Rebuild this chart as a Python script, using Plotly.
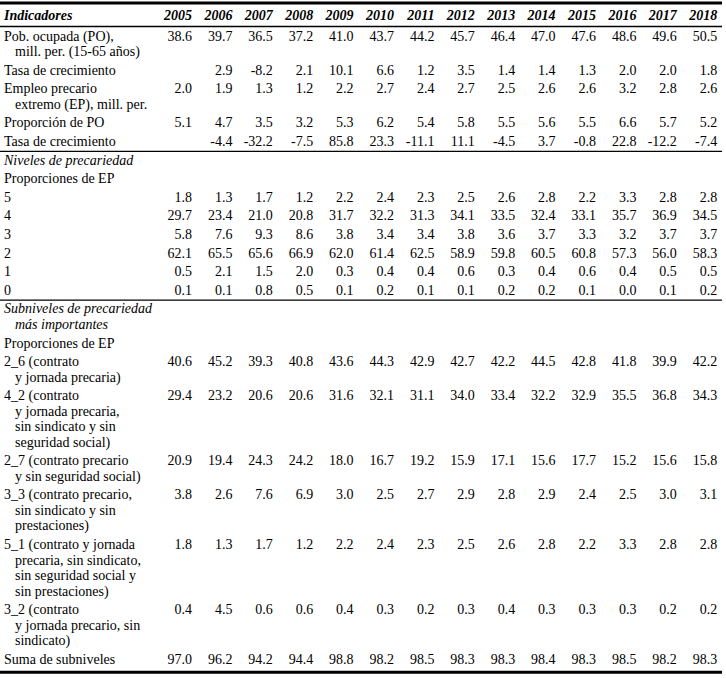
import plotly.graph_objects as go

# %% Datos de la tabla
anios = [2005, 2006, 2007, 2008, 2009, 2010, 2011, 2012, 2013, 2014, 2015, 2016, 2017, 2018]

pob_ocupada = [38.6, 39.7, 36.5, 37.2, 41.0, 43.7, 44.2, 45.7, 46.4, 47.0, 47.6, 48.6, 49.6, 50.5]
tasa_po = [None, 2.9, -8.2, 2.1, 10.1, 6.6, 1.2, 3.5, 1.4, 1.4, 1.3, 2.0, 2.0, 1.8]
empleo_ep = [2.0, 1.9, 1.3, 1.2, 2.2, 2.7, 2.4, 2.7, 2.5, 2.6, 2.6, 3.2, 2.8, 2.6]
prop_po = [5.1, 4.7, 3.5, 3.2, 5.3, 6.2, 5.4, 5.8, 5.5, 5.6, 5.5, 6.6, 5.7, 5.2]
tasa_ep = [None, -4.4, -32.2, -7.5, 85.8, 23.3, -11.1, 11.1, -4.5, 3.7, -0.8, 22.8, -12.2, -7.4]

nivel_5 = [1.8, 1.3, 1.7, 1.2, 2.2, 2.4, 2.3, 2.5, 2.6, 2.8, 2.2, 3.3, 2.8, 2.8]
nivel_4 = [29.7, 23.4, 21.0, 20.8, 31.7, 32.2, 31.3, 34.1, 33.5, 32.4, 33.1, 35.7, 36.9, 34.5]
nivel_3 = [5.8, 7.6, 9.3, 8.6, 3.8, 3.4, 3.4, 3.8, 3.6, 3.7, 3.3, 3.2, 3.7, 3.7]
nivel_2 = [62.1, 65.5, 65.6, 66.9, 62.0, 61.4, 62.5, 58.9, 59.8, 60.5, 60.8, 57.3, 56.0, 58.3]
nivel_1 = [0.5, 2.1, 1.5, 2.0, 0.3, 0.4, 0.4, 0.6, 0.3, 0.4, 0.6, 0.4, 0.5, 0.5]
nivel_0 = [0.1, 0.1, 0.8, 0.5, 0.1, 0.2, 0.1, 0.1, 0.2, 0.2, 0.1, 0.0, 0.1, 0.2]

sub_2_6 = [40.6, 45.2, 39.3, 40.8, 43.6, 44.3, 42.9, 42.7, 42.2, 44.5, 42.8, 41.8, 39.9, 42.2]
sub_4_2 = [29.4, 23.2, 20.6, 20.6, 31.6, 32.1, 31.1, 34.0, 33.4, 32.2, 32.9, 35.5, 36.8, 34.3]
sub_2_7 = [20.9, 19.4, 24.3, 24.2, 18.0, 16.7, 19.2, 15.9, 17.1, 15.6, 17.7, 15.2, 15.6, 15.8]
sub_3_3 = [3.8, 2.6, 7.6, 6.9, 3.0, 2.5, 2.7, 2.9, 2.8, 2.9, 2.4, 2.5, 3.0, 3.1]
sub_5_1 = [1.8, 1.3, 1.7, 1.2, 2.2, 2.4, 2.3, 2.5, 2.6, 2.8, 2.2, 3.3, 2.8, 2.8]
sub_3_2 = [0.4, 4.5, 0.6, 0.6, 0.4, 0.3, 0.2, 0.3, 0.4, 0.3, 0.3, 0.3, 0.2, 0.2]
suma_sub = [97.0, 96.2, 94.2, 94.4, 98.8, 98.2, 98.5, 98.3, 98.3, 98.4, 98.3, 98.5, 98.2, 98.3]

# %% Estructura de filas: (tipo, líneas de la etiqueta, valores)
filas = [
    ("header", ["Indicadores"], anios),
    ("row", ["Pob. ocupada (PO),", "mill. per. (15-65 años)"], pob_ocupada),
    ("row", ["Tasa de crecimiento"], tasa_po),
    ("row", ["Empleo precario", "extremo (EP), mill. per."], empleo_ep),
    ("row", ["Proporción de PO"], prop_po),
    ("row", ["Tasa de crecimiento"], tasa_ep),
    ("rule", [], None),
    ("section", ["Niveles de precariedad"], None),
    ("row", ["Proporciones de EP"], None),
    ("row", ["5"], nivel_5),
    ("row", ["4"], nivel_4),
    ("row", ["3"], nivel_3),
    ("row", ["2"], nivel_2),
    ("row", ["1"], nivel_1),
    ("row", ["0"], nivel_0),
    ("rule", [], None),
    ("section", ["Subniveles de precariedad", "más importantes"], None),
    ("row", ["Proporciones de EP"], None),
    ("row", ["2_6 (contrato", "y jornada precaria)"], sub_2_6),
    ("row", ["4_2 (contrato", "y jornada precaria,", "sin sindicato y sin", "seguridad social)"], sub_4_2),
    ("row", ["2_7 (contrato precario", "y sin seguridad social)"], sub_2_7),
    ("row", ["3_3 (contrato precario,", "sin sindicato y sin", "prestaciones)"], sub_3_3),
    ("row", ["5_1 (contrato y jornada", "precaria, sin sindicato,", "sin seguridad social y", "sin prestaciones)"], sub_5_1),
    ("row", ["3_2 (contrato", "y jornada precario, sin", "sindicato)"], sub_3_2),
    ("row", ["Suma de subniveles"], suma_sub),
]

# %% Geometría (px)
W, H = 726, 678
x_label, x_indent = 4, 15
col_right0, col_step = 192, 40.4
line_h, row_gap = 15.5, 18.6
fuente = "Liberation Serif"

cols_x = [col_right0 + col_step * i for i in range(len(anios))]

estilos = {"header": [], "section": [], "normal": []}
nums = {"header": [], "normal": []}
reglas = []

y = 16.5
prev_end = None
for tipo, lineas, valores in filas:
    if tipo == "rule":
        reglas.append(prev_end + (row_gap / 2) - 0.5)
        continue
    key = tipo if tipo in ("header", "section") else "normal"
    for j, txt in enumerate(lineas):
        estilos[key].append((x_label if j == 0 else x_indent, y + line_h * j, txt))
    if valores is not None:
        nk = "header" if tipo == "header" else "normal"
        for xc, v in zip(cols_x, valores):
            if v is None:
                continue
            txt = str(v) if tipo == "header" else f"{v:.1f}"
            nums[nk].append((xc, y, txt))
    prev_end = y + line_h * (len(lineas) - 1)
    y = prev_end + row_gap + (2.0 if tipo == "header" else 0)
    if tipo == "header":
        reglas.append(prev_end + 10)

fig = go.Figure()

fmt = {
    "header": dict(style="italic", weight="bold"),
    "section": dict(style="italic", weight="normal"),
    "normal": dict(style="normal", weight="normal"),
}

for key, pts in estilos.items():
    fig.add_trace(go.Scatter(
        x=[p[0] for p in pts], y=[p[1] for p in pts], text=[p[2] for p in pts],
        mode="text", textposition="middle right", cliponaxis=False,
        textfont=dict(family=fuente, size=14, color="black", **fmt[key]),
        hoverinfo="skip", showlegend=False,
    ))

for key, pts in nums.items():
    fig.add_trace(go.Scatter(
        x=[p[0] for p in pts], y=[p[1] for p in pts], text=[p[2] for p in pts],
        mode="text", textposition="middle left", cliponaxis=False,
        textfont=dict(family=fuente, size=14, color="black", **fmt[key]),
        hoverinfo="skip", showlegend=False,
    ))

x_fin = W - 4
shapes = [dict(type="line", x0=0, x1=x_fin, y0=3, y1=3, line=dict(color="black", width=3))]
for ry in reglas:
    shapes.append(dict(type="line", x0=0, x1=x_fin, y0=ry, y1=ry, line=dict(color="black", width=1.3)))
shapes.append(dict(type="line", x0=0, x1=x_fin, y0=y - 6.5, y1=y - 6.5, line=dict(color="black", width=3)))

fig.update_layout(
    width=W, height=H,
    margin=dict(l=0, r=0, t=0, b=0),
    paper_bgcolor="white", plot_bgcolor="white",
    font=dict(family=fuente),
    xaxis=dict(range=[0, W], visible=False, fixedrange=True),
    yaxis=dict(range=[H, 0], visible=False, fixedrange=True),
    shapes=shapes,
)

# quitar el margen por defecto del body para que la tabla ocupe toda la ventana
fig.write_html(
    "out.html",
    config={"displayModeBar": False},
    post_script="document.body.style.margin='0';",
)
